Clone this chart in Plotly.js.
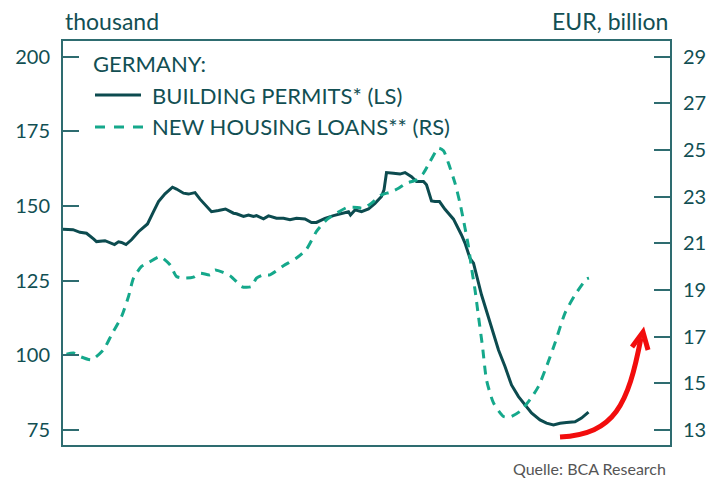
<!DOCTYPE html>
<html>
<head>
<meta charset="utf-8">
<script src="https://cdn.plot.ly/plotly-3.0.1.min.js"></script>
<style>html,body{margin:0;padding:0;background:#fff;}#chart{width:720px;height:479px;}</style>
</head>
<body>
<div id="chart"></div>
<script>
// Time (decimal years)
const permitsTime = [2014.00,2014.20,2014.34,2014.47,2014.61,2014.67,2014.84,2014.94,2015.03,2015.11,2015.17,2015.26,2015.37,2015.51,2015.69,2015.81,2015.91,2016.04,2016.19,2016.27,2016.41,2016.51,2016.64,2016.74,2016.84,2016.97,2017.11,2017.25,2017.41,2017.47,2017.61,2017.71,2017.81,2017.87,2018.01,2018.11,2018.27,2018.41,2018.54,2018.67,2018.84,2018.97,2019.07,2019.24,2019.41,2019.57,2019.71,2019.75,2019.84,2019.97,2020.11,2020.24,2020.37,2020.42,2020.47,2020.61,2020.74,2020.84,2020.97,2021.07,2021.21,2021.27,2021.37,2021.44,2021.53,2021.64,2021.81,2021.97,2022.04,2022.14,2022.21,2022.37,2022.57,2022.71,2022.84,2022.97,2023.11,2023.24,2023.37,2023.54,2023.67,2023.81,2023.94,2024.07,2024.24,2024.37,2024.51];
// Building permits, thousand (left scale)
const permitsValues = [142.2,142.1,141.2,140.9,139.0,138.1,138.4,137.8,137.1,138.0,137.8,137.1,138.7,141.4,144.0,148.1,151.5,154.1,156.3,155.7,154.3,154.0,154.5,152.3,150.6,148.1,148.5,149.0,147.6,147.4,146.5,147.0,146.5,146.8,145.7,146.7,145.9,145.9,145.4,145.9,145.7,144.5,144.5,145.9,146.8,147.6,148.1,147.0,148.7,148.1,149.0,150.9,153.2,155.4,161.2,161.0,160.7,161.2,159.8,158.2,158.2,157.1,151.7,151.5,151.5,148.9,145.6,140.3,137.6,132.5,130.9,120.3,109.6,101.8,96.3,90.1,86.2,83.4,80.7,78.4,77.3,76.7,77.3,77.5,77.8,79.0,81.0];

const loansTime = [2014.07,2014.21,2014.34,2014.57,2014.81,2014.97,2015.17,2015.31,2015.41,2015.57,2015.71,2015.94,2016.14,2016.27,2016.44,2016.61,2016.74,2016.94,2017.04,2017.21,2017.34,2017.47,2017.57,2017.67,2017.77,2017.87,2018.01,2018.14,2018.41,2018.67,2018.87,2019.07,2019.27,2019.47,2019.67,2019.81,2020.01,2020.17,2020.37,2020.54,2020.71,2020.87,2021.07,2021.21,2021.34,2021.51,2021.61,2021.71,2021.84,2021.94,2022.04,2022.11,2022.17,2022.24,2022.31,2022.39,2022.47,2022.61,2022.81,2022.94,2023.14,2023.34,2023.51,2023.67,2023.84,2024.04,2024.24,2024.47,2024.52];
// New housing loans, EUR billion (right scale)
const loansValues = [16.25,16.30,16.15,16.01,16.44,17.08,17.86,18.72,19.51,20.01,20.18,20.43,20.08,19.58,19.51,19.55,19.72,19.65,19.86,19.75,19.61,19.36,19.15,19.12,19.15,19.51,19.65,19.65,20.04,20.37,20.75,21.51,22.01,22.29,22.53,22.55,22.51,22.72,23.08,23.19,23.36,23.58,23.72,24.01,24.50,25.08,24.97,24.43,23.58,22.72,21.66,20.86,19.95,19.01,17.86,16.58,15.15,14.16,13.58,13.56,13.80,14.30,14.87,15.72,16.73,18.01,18.79,19.47,19.51];

const leftTicks = [75,100,125,150,175,200];
const rightTicks = [13,15,17,19,21,23,25,27,29];

const seriesNames = ['BUILDING PERMITS* (LS)', 'NEW HOUSING LOANS** (RS)'];
const legendTitle = 'GERMANY:';

const DARK = '#0c4b4f';
const TEAL = '#15a88b';
const AXIS = '#2e6c70';
const LABEL = '#124f53';
const FONT = 'Lato, "Open Sans", sans-serif';
const DASH = '9px,7px';

// plot area in pixels (for decorative overlay conversion)
const L = 63, R = 670, T = 41, B = 445;
const fx = (x) => (x - L) / (R - L);
const fy = (y) => (B - y) / (B - T);
const P = (x, y) => fx(x).toFixed(4) + ',' + fy(y).toFixed(4);

const traces = [
  {x: permitsTime, y: permitsValues, type: 'scatter', mode: 'lines', name: seriesNames[0],
   line: {color: DARK, width: 3}, yaxis: 'y'},
  {x: loansTime, y: loansValues, type: 'scatter', mode: 'lines', name: seriesNames[1],
   line: {color: TEAL, width: 3, dash: DASH, shape: 'spline', smoothing: 0.6}, yaxis: 'y2'}
];

const txt = (text, x, y, size, color, anchor) => ({
  text: text, xref: 'paper', yref: 'paper', x: fx(x), y: fy(y), xanchor: anchor || 'left', yanchor: 'middle',
  showarrow: false, font: {size: size, color: color || LABEL, family: FONT}
});

const layout = {
  width: 720, height: 479,
  margin: {l: L, r: 720 - R, t: T, b: 479 - B, pad: 0},
  paper_bgcolor: '#ffffff', plot_bgcolor: '#ffffff',
  font: {family: FONT, color: LABEL},
  showlegend: false,
  xaxis: {
    range: [2014, 2014 + (R - L) / 50], showticklabels: false, ticks: '', showgrid: false, zeroline: false,
    showline: true, linecolor: AXIS, linewidth: 2, mirror: true
  },
  yaxis: {
    range: [70, 205.25], tickvals: leftTicks, ticktext: leftTicks.map(String),
    ticks: 'inside', ticklen: 16, tickwidth: 2, tickcolor: AXIS,
    showgrid: false, zeroline: false, showline: true, linecolor: AXIS, linewidth: 2,
    tickfont: {size: 20, color: LABEL, family: FONT}, ticklabelstandoff: 7
  },
  yaxis2: {
    overlaying: 'y', side: 'right', range: [12.358, 29.672], tickvals: rightTicks, ticktext: rightTicks.map(String),
    ticks: 'inside', ticklen: 16, tickwidth: 2, tickcolor: AXIS,
    showgrid: false, zeroline: false, showline: true, linecolor: AXIS, linewidth: 2,
    tickfont: {size: 20, color: LABEL, family: FONT}, ticklabelstandoff: 7
  },
  annotations: [
    txt('thousand', 63, 21, 23),
    txt('EUR, billion', 670, 21, 23, LABEL, 'right'),
    txt('Quelle: BCA Research', 668, 468, 16, '#555555', 'right'),
    txt(legendTitle, 91, 63, 22),
    txt(seriesNames[0], 150, 95, 22),
    txt(seriesNames[1], 150, 127, 22)
  ],
  shapes: [
    {type: 'line', xref: 'paper', yref: 'paper', x0: fx(95), x1: fx(141), y0: fy(95), y1: fy(95),
     line: {color: DARK, width: 3}},
    {type: 'line', xref: 'paper', yref: 'paper', x0: fx(95), x1: fx(143), y0: fy(127), y1: fy(127),
     line: {color: TEAL, width: 3, dash: '10px,9px'}},
    {type: 'path', xref: 'paper', yref: 'paper', layer: 'above',
     path: 'M' + P(560, 437) + ' C' + P(615, 434) + ' ' + P(628, 405) + ' ' + P(641, 338),
     line: {color: '#f20d0d', width: 5}},
    {type: 'path', xref: 'paper', yref: 'paper', layer: 'above',
     path: 'M' + P(632, 347) + ' L' + P(643, 332) + ' L' + P(648, 350),
     line: {color: '#f20d0d', width: 5}}
  ]
};

Plotly.newPlot('chart', traces, layout, {displayModeBar: false, staticPlot: true});
</script>
</body>
</html>
